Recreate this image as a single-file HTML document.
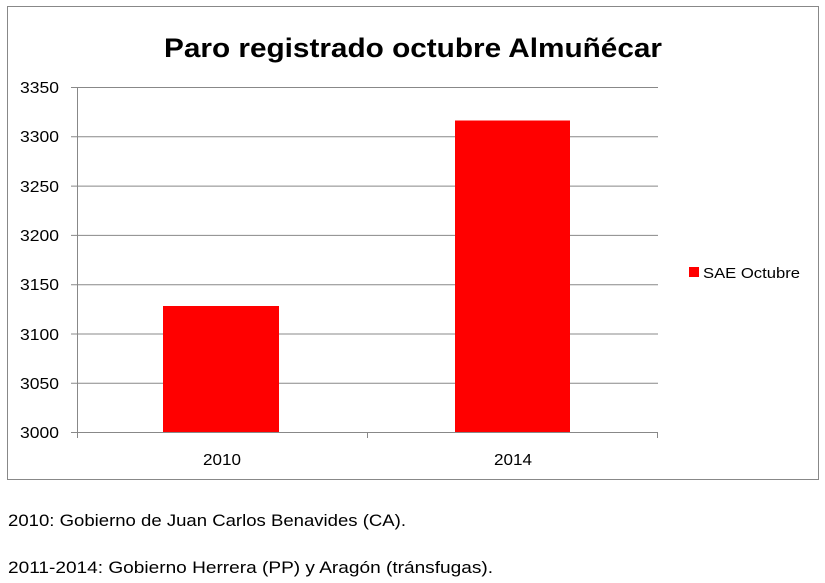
<!DOCTYPE html>
<html><head><meta charset="utf-8"><style>html,body{margin:0;padding:0;background:#fff;}svg{display:block}</style></head>
<body>
<svg width="825" height="583" xmlns="http://www.w3.org/2000/svg" font-family="'Liberation Sans', sans-serif">
<rect x="7.5" y="6.5" width="811" height="473" fill="#fff" stroke="#888" stroke-width="1"/>
<text x="413" y="57" text-anchor="middle" font-size="27" font-weight="bold" textLength="498" lengthAdjust="spacingAndGlyphs">Paro registrado octubre Almuñécar</text>
<g stroke="#888" stroke-width="1">
<line x1="71" y1="87.5" x2="658" y2="87.5"/>
<line x1="71" y1="136.8" x2="658" y2="136.8"/>
<line x1="71" y1="186.1" x2="658" y2="186.1"/>
<line x1="71" y1="235.4" x2="658" y2="235.4"/>
<line x1="71" y1="284.7" x2="658" y2="284.7"/>
<line x1="71" y1="334" x2="658" y2="334"/>
<line x1="71" y1="383.3" x2="658" y2="383.3"/>
<line x1="71" y1="432.5" x2="658" y2="432.5"/>
<line x1="77.5" y1="87" x2="77.5" y2="438"/>
<line x1="367.5" y1="432" x2="367.5" y2="438"/>
<line x1="657.5" y1="432" x2="657.5" y2="438"/>
</g>
<rect x="163" y="306" width="116" height="126" fill="#ff0000"/>
<rect x="455" y="120.5" width="115" height="311.5" fill="#ff0000"/>
<g font-size="16" text-anchor="end" fill="#000">
<text x="59" y="93" textLength="39" lengthAdjust="spacingAndGlyphs">3350</text>
<text x="59" y="142" textLength="39" lengthAdjust="spacingAndGlyphs">3300</text>
<text x="59" y="192" textLength="39" lengthAdjust="spacingAndGlyphs">3250</text>
<text x="59" y="241" textLength="39" lengthAdjust="spacingAndGlyphs">3200</text>
<text x="59" y="290" textLength="39" lengthAdjust="spacingAndGlyphs">3150</text>
<text x="59" y="340" textLength="39" lengthAdjust="spacingAndGlyphs">3100</text>
<text x="59" y="389" textLength="39" lengthAdjust="spacingAndGlyphs">3050</text>
<text x="59" y="438" textLength="39" lengthAdjust="spacingAndGlyphs">3000</text>
</g>
<g font-size="16" text-anchor="middle">
<text x="222" y="465" textLength="38" lengthAdjust="spacingAndGlyphs">2010</text>
<text x="513" y="465" textLength="38" lengthAdjust="spacingAndGlyphs">2014</text>
</g>
<rect x="689" y="267" width="10" height="10" fill="#ff0000"/>
<text x="703" y="278" font-size="15" textLength="97" lengthAdjust="spacingAndGlyphs">SAE Octubre</text>
<text x="8" y="526" font-size="17" textLength="398" lengthAdjust="spacingAndGlyphs">2010: Gobierno de Juan Carlos Benavides (CA).</text>
<text x="8" y="573" font-size="17" textLength="485" lengthAdjust="spacingAndGlyphs">2011-2014: Gobierno Herrera (PP) y Aragón (tránsfugas).</text>
</svg>
</body></html>
